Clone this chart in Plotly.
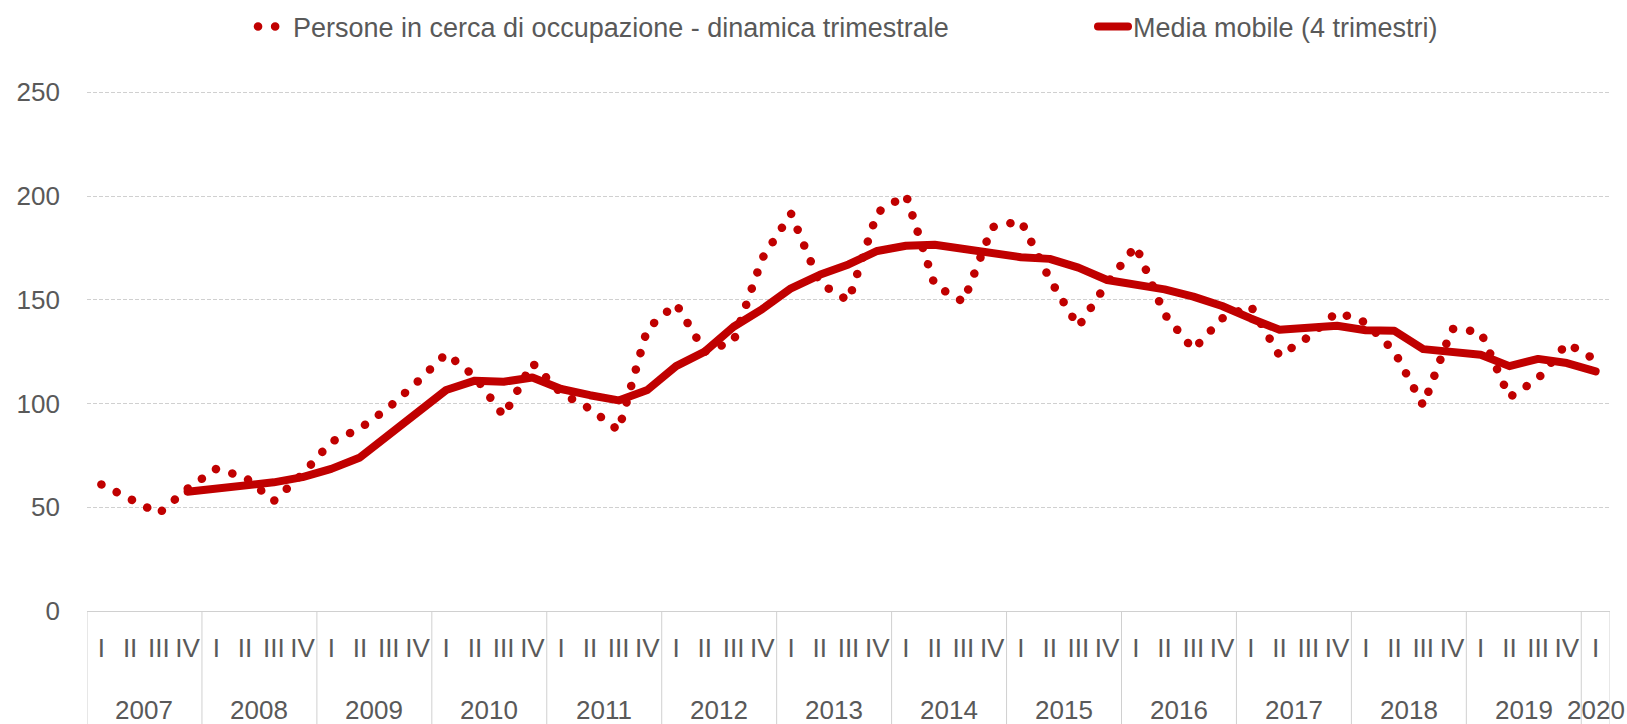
import plotly.graph_objects as go

years = ["2007", "2008", "2009", "2010", "2011", "2012", "2013",
         "2014", "2015", "2016", "2017", "2018", "2019", "2020"]
quarter_names = ["I", "II", "III", "IV"]

# quarterly values 2007-I ... 2020-I
persone = [61, 54, 47, 59,
           68.5, 64.5, 53, 66,
           81.5, 88, 98, 110.5,
           124, 113, 94, 119.5,
           105, 97.5, 87, 136,
           148, 125, 130, 170,
           191.5, 158, 149.5, 192,
           200.5, 157, 149, 185,
           188, 160, 137, 158,
           176, 143, 126, 141,
           147, 123, 132, 144,
           139, 125, 99, 136,
           134.5, 103, 112, 129,
           121]

media_mobile = [None, None, None, 57.5,
                58.8, 60.2, 62, 64.5,
                68.5, 74, 85, 96.5,
                106.5, 111, 110.5, 112.5,
                107, 104, 101.5, 106.5,
                118, 125, 137, 145.5,
                155.5, 162, 167, 173.5,
                176, 176.5, 174.5, 172.5,
                170.5, 169.7, 165.5, 159.5,
                157.5, 155, 151.5, 147,
                141, 135.5, 136.5, 137.5,
                135.3, 135, 126.2, 125.3,
                123.5, 118, 121.5, 119.5,
                115.5]

y_ticks = [0, 50, 100, 150, 200, 250]

# categories: one per quarter, labelled with the quarter; years shown below
cats, cat_year, cat_q = [], [], []
for y in years:
    qs = quarter_names if y != "2020" else ["I"]
    for q in qs:
        cats.append(f"{q} {y}")
        cat_year.append(y)
        cat_q.append(q)

RED = "#C00000"
GREY_TXT = "#595959"
GRID = "#d0d0d0"
DIV = "#d0d0d0"
FONT = "Liberation Sans, Arial, sans-serif"

fig = go.Figure()
fig.add_trace(go.Scatter(
    x=cats, y=persone,
    mode="lines",
    name="Persone in cerca di occupazione - dinamica trimestrale",
    line=dict(color=RED, width=8.5, dash="0.1px,17px"),
    legend="legend",
))
fig.add_trace(go.Scatter(
    x=cats, y=media_mobile,
    mode="lines",
    name="Media mobile (4 trimestri)",
    line=dict(color=RED, width=8),
    legend="legend2",
))

# year labels and dividers of the two-level category axis
annotations = []
shapes = []
n = len(cats)
for y in years:
    idx = [i for i, cy in enumerate(cat_year) if cy == y]
    annotations.append(dict(
        x=(idx[0] + idx[-1]) / 2, xref="x",
        y=-0.19, yref="paper", yanchor="middle",
        text=y, showarrow=False,
        font=dict(size=26, color=GREY_TXT, family=FONT),
    ))
    shapes.append(dict(
        type="line", xref="x", yref="paper",
        x0=idx[0] - 0.5, x1=idx[0] - 0.5, y0=0, y1=-0.3,
        line=dict(color=DIV, width=1),
    ))
shapes.append(dict(
    type="line", xref="x", yref="paper",
    x0=n - 0.5, x1=n - 0.5, y0=0, y1=-0.3,
    line=dict(color=DIV, width=1),
))

legend_common = dict(
    orientation="h",
    yref="container", yanchor="middle", y=1 - 27 / 724,
    xref="container", xanchor="left",
    font=dict(size=27, color=GREY_TXT, family=FONT),
    bgcolor="rgba(0,0,0,0)",
)

fig.update_layout(
    width=1627, height=724,
    margin=dict(l=87, r=17, t=91, b=113, autoexpand=False),
    paper_bgcolor="white",
    plot_bgcolor="white",
    font=dict(family=FONT, color=GREY_TXT, size=26),
    showlegend=True,
    legend=dict(legend_common, x=253 / 1627),
    legend2=dict(legend_common, x=1093 / 1627),
    annotations=annotations,
    shapes=shapes,
    hovermode="x",
    xaxis=dict(
        type="category",
        range=[-0.5, n - 0.5],
        tickmode="array",
        tickvals=cats,
        ticktext=cat_q,
        showgrid=False,
        showline=True, linecolor=GRID, linewidth=1,
        ticks="",
        ticklabelstandoff=14,
        tickangle=0,
        automargin=False,
        tickfont=dict(size=26, color=GREY_TXT, family=FONT),
        zeroline=False,
    ),
    yaxis=dict(
        range=[0, 250.6],
        tickvals=y_ticks,
        ticktext=[str(v) for v in y_ticks],
        showgrid=True, gridcolor=GRID, gridwidth=1, griddash="4px,2px",
        zeroline=False,
        showline=False,
        ticks="",
        ticklabelstandoff=26,
        automargin=False,
        tickfont=dict(size=26, color=GREY_TXT, family=FONT),
    ),
)

post = ("var s=document.createElement('style');"
        "s.textContent='html,body{margin:0;padding:0;overflow:hidden}"
        " path.js-line{stroke-linecap:round;stroke-linejoin:round}"
        " .legendlines path{stroke-linecap:round}';"
        "document.head.appendChild(s);")

fig.write_html("out.html", post_script=post,
               config={"displayModeBar": False})
